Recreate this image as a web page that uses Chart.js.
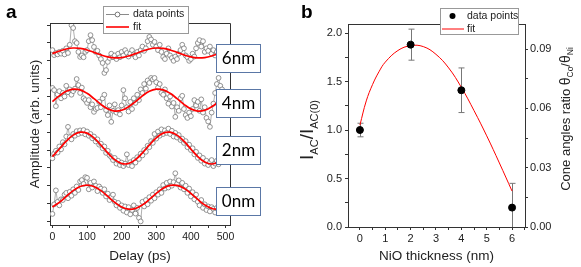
<!DOCTYPE html>
<html><head><meta charset="utf-8">
<script src="https://cdn.jsdelivr.net/npm/chart.js@4"></script>
<style>
html,body{margin:0;padding:0;background:#fff;width:581px;height:267px;overflow:hidden}
canvas{position:absolute;top:0}
#ca{left:0}
#cb{left:270px}
</style></head><body>
<canvas id="ca" width="270" height="267"></canvas>
<canvas id="cb" width="311" height="267"></canvas>
<script>
// ---------- Panel a data ----------
const delay = [0,5,10,15,20,25,30,35,40,45,50,55,60,65,70,75,80,85,90,95,100,105,110,115,120,125,130,135,140,145,150,155,160,165,170,175,180,185,190,195,200,205,210,215,220,225,230,235,240,245,250,255,260,265,270,275,280,285,290,295,300,305,310,315,320,325,330,335,340,345,350,355,360,365,370,375,380,385,390,395,400,405,410,415,420,425,430,435,440,445,450,455,460,465,470,475,480,485,490];
const amp0nm = [-0.29,-0.02,0.37,0.05,-0.05,0.12,0.10,0.25,0.30,0.15,
0.33,0.22,0.40,0.30,0.48,0.38,0.62,0.66,0.55,0.74,
0.72,0.40,0.58,0.45,0.62,0.50,0.35,0.48,0.42,0.30,
0.40,0.20,0.28,0.10,0.18,0.25,0.05,-0.05,0.02,-0.12,
-0.05,-0.20,-0.08,-0.25,-0.10,-0.30,-0.18,-0.05,-0.28,-0.12,
-0.40,-0.50,0.05,-0.08,0.10,-0.02,0.18,0.08,0.25,0.15,
0.32,0.25,0.40,0.30,0.52,0.42,0.58,0.45,0.62,0.50,
0.60,0.85,0.55,0.65,0.45,0.58,0.40,0.50,0.30,0.42,
0.20,0.32,0.12,0.25,0.05,-0.05,0.10,-0.12,-0.02,-0.18,
-0.08,-0.22,-0.10,-0.15,-0.25,-0.12,-0.20,-0.10,-0.15];
const amp2nm = [1.27,1.40,1.48,1.43,1.60,1.52,1.72,1.66,1.88,2.15,
1.86,1.80,1.95,1.90,2.03,1.95,2.05,1.98,2.06,1.94,
2.02,1.90,1.95,1.83,1.88,1.74,1.80,1.65,1.68,1.55,
1.60,1.42,1.48,1.35,1.30,1.22,1.28,1.12,1.20,1.08,
1.15,1.05,1.12,1.38,1.08,1.16,1.05,1.22,1.15,1.30,
1.25,1.40,1.35,1.50,1.45,1.62,1.58,1.75,1.70,1.95,
1.82,2.02,1.90,2.08,1.95,2.05,1.98,2.10,1.95,2.04,
1.88,1.98,1.85,1.92,1.78,1.82,1.70,1.75,1.58,1.65,
1.50,1.55,1.38,1.45,1.28,1.35,1.20,1.28,1.12,1.20,
1.08,1.15,1.22,1.05,1.12,1.20,1.10,1.18,1.25];
const amp4nm = [3.24,3.18,2.73,3.06,3.15,2.95,3.10,3.00,3.30,3.12,
3.20,3.05,3.15,3.22,3.49,3.32,3.10,3.25,2.95,2.90,
2.82,2.90,2.70,2.78,2.57,2.65,2.68,2.85,2.70,2.95,
3.05,2.62,2.48,2.75,2.29,2.60,2.78,2.55,2.62,2.50,
2.75,3.18,2.95,2.70,2.58,2.85,2.65,2.95,2.82,3.05,
2.90,3.20,3.10,3.35,3.22,3.45,3.38,3.52,3.48,3.52,
3.40,3.25,3.35,3.10,3.05,3.20,2.95,2.80,3.00,2.72,
2.82,2.43,2.70,2.60,2.95,3.02,2.65,2.48,2.40,2.55,
2.45,2.65,2.90,2.75,2.85,2.60,2.92,2.55,2.70,2.40,
2.30,2.15,2.55,2.80,3.10,3.35,3.52,3.30,3.20];
const amp6nm = [4.30,4.16,4.22,4.18,4.25,4.20,4.28,4.18,4.35,4.22,
4.45,5.00,4.92,4.55,4.50,4.25,4.11,4.15,4.10,4.25,
4.30,4.55,4.72,4.58,4.39,4.25,4.28,4.15,4.05,3.94,
3.66,3.74,3.97,4.08,4.20,4.10,4.15,4.05,4.20,4.10,
4.25,4.15,4.30,4.22,4.12,4.20,4.30,4.18,4.10,4.25,
4.15,4.30,4.40,4.28,4.35,4.55,4.67,4.60,4.45,4.53,
4.40,4.30,4.45,4.25,4.11,4.05,4.20,4.35,4.15,4.08,
4.00,4.12,4.05,4.20,4.30,4.45,4.35,4.15,4.10,4.00,
4.05,4.20,4.12,4.35,4.50,4.58,4.40,4.55,4.25,4.35,
4.28,4.40,4.20,4.30,4.15,4.25,4.35,4.20,4.30];
const fitDelay = [0,20,40,60,80,100,120,140,160,180,200,220,240,260,280,300,320,340,360,380,400,420,440,460,480];
const fit0nm = [-0.095,0.035,0.201,0.362,0.478,0.52,0.478,0.362,0.201,0.035,-0.095,-0.157,-0.136,-0.037,0.116,0.285,0.428,0.509,0.509,0.428,0.285,0.116,-0.037,-0.136,-0.157];
const fit2nm = [1.317,1.529,1.748,1.919,2.001,1.974,1.842,1.641,1.419,1.230,1.123,1.123,1.230,1.419,1.641,1.842,1.974,2.001,1.919,1.748,1.529,1.317,1.165,1.109,1.165];
const fit4nm = [2.859,3.019,3.146,3.207,3.186,3.089,2.941,2.781,2.654,2.593,2.614,2.711,2.859,3.019,3.146,3.207,3.186,3.089,2.941,2.781,2.654,2.593,2.614,2.711,2.859];
const fit6nm = [4.202,4.274,4.331,4.359,4.349,4.305,4.238,4.166,4.109,4.081,4.091,4.135,4.202,4.274,4.331,4.359,4.349,4.305,4.238,4.166,4.109,4.081,4.091,4.135,4.202];
const traceLabels = ['6nm','4nm','2nm','0nm'];
const delayTicks = [0,50,100,150,200,250,300,350,400,450,500];
const ampTicks = [-0.5,0,0.5,1,1.5,2,2.5,3,3.5,4,4.5,5];

// ---------- Panel b data ----------
const thickness = [0,2,4,6];
const ratio = [1.00,1.88,1.41,0.20];
const ratioErr = [0.07,0.16,0.23,0.25];
const fitThickness = [0,0.25,0.5,0.75,1,1.5,2,2.5,3,3.5,4,4.5,5,5.5,6];
const fitRatio = [1.05,1.30,1.47,1.60,1.70,1.82,1.87,1.86,1.78,1.64,1.44,1.20,0.94,0.66,0.37];
const thicknessTicks = [0,0.5,1,1.5,2,2.5,3,3.5,4,4.5,5,5.5,6,6.5];
const ratioTicks = [0,0.25,0.5,0.75,1,1.25,1.5,1.75,2];
const coneTicks = [0,0.015,0.03,0.045,0.06,0.075,0.09];

const FAM = "'Liberation Sans', Arial, sans-serif";
Chart.defaults.font.family = FAM;
Chart.defaults.color = '#222';
const AX = '#333';

function pts(xs, ys){ return xs.map((x,i)=>({x:x, y:ys[i]})); }

function drawRich(ctx, parts, cx, cy, base){
  ctx.save();
  ctx.translate(cx, cy);
  ctx.rotate(-Math.PI/2);
  let w = 0;
  parts.forEach(p=>{ ctx.font = p.size+'px '+FAM; p.w = ctx.measureText(p.t).width; w += p.w; });
  let x = -w/2;
  ctx.fillStyle = '#222';
  ctx.textBaseline = 'alphabetic';
  ctx.textAlign = 'left';
  parts.forEach(p=>{
    ctx.font = p.size+'px '+FAM;
    const y = base*0.36 + (p.sub ? base*0.28 : 0);
    ctx.fillText(p.t, x, y);
    x += p.w;
  });
  ctx.restore();
}

// ---------- Chart A ----------
const decorA = {
  id:'decorA',
  afterDraw(chart){
    const ctx = chart.ctx, a = chart.chartArea;
    ctx.save();
    ctx.strokeStyle = AX; ctx.lineWidth = 1;
    ctx.beginPath();
    ctx.moveTo(Math.round(a.left)+0.5, Math.round(a.top)+0.5);
    ctx.lineTo(Math.round(a.right)+0.5, Math.round(a.top)+0.5);
    ctx.lineTo(Math.round(a.right)+0.5, Math.round(a.bottom)+0.5);
    ctx.stroke();
    // legend
    ctx.fillStyle = '#fff'; ctx.strokeStyle = '#999';
    ctx.fillRect(103.5,6.5,85,27); ctx.strokeRect(103.5,6.5,85,27);
    ctx.strokeStyle = '#8a8a8a'; ctx.lineWidth = 1;
    ctx.beginPath(); ctx.moveTo(106,14.5); ctx.lineTo(129,14.5); ctx.stroke();
    ctx.beginPath(); ctx.arc(117.5,14.5,2.4,0,Math.PI*2); ctx.fillStyle='#fff'; ctx.fill(); ctx.strokeStyle='#777'; ctx.stroke();
    ctx.strokeStyle = '#ff0000'; ctx.lineWidth = 1.6;
    ctx.beginPath(); ctx.moveTo(106,27); ctx.lineTo(129,27); ctx.stroke();
    ctx.fillStyle = '#222'; ctx.font = '10.5px '+FAM; ctx.textBaseline = 'middle'; ctx.textAlign='left';
    ctx.fillText('data points',133,14.5);
    ctx.fillText('fit',133,27.5);
    // trace labels
    const anchors = [57.5,103,150,200.5];
    traceLabels.forEach((t,i)=>{
      const cy = anchors[i];
      ctx.fillStyle = '#fff'; ctx.strokeStyle = '#5a77a6'; ctx.lineWidth = 1;
      ctx.fillRect(216.5, Math.round(cy-14)+0.5, 44, 28);
      ctx.strokeRect(216.5, Math.round(cy-14)+0.5, 44, 28);
      ctx.fillStyle = '#000'; ctx.font = "17px Lato, 'Open Sans', sans-serif";
      ctx.textAlign = 'center'; ctx.textBaseline = 'middle';
      ctx.fillText(t, 238.5, cy+1);
    });
    // panel label
    ctx.fillStyle = '#000'; ctx.font = 'bold 19px '+FAM; ctx.textAlign='left'; ctx.textBaseline='alphabetic';
    ctx.fillText('a', 6, 18);
    ctx.restore();
  }
};

const dataStyle = {borderColor:'#9a9a9a', borderWidth:0.8, pointRadius:2.4, pointBorderWidth:0.8, pointBorderColor:'#777', pointBackgroundColor:'#fff', tension:0, order:1};
const fitStyle = {borderColor:'#ff0000', borderWidth:1.7, pointRadius:0, tension:0.4, order:0};

new Chart(document.getElementById('ca'), {
  type:'line',
  data:{datasets:[
    Object.assign({data:pts(fitDelay,fit6nm)}, fitStyle),
    Object.assign({data:pts(fitDelay,fit4nm)}, fitStyle),
    Object.assign({data:pts(fitDelay,fit2nm)}, fitStyle),
    Object.assign({data:pts(fitDelay,fit0nm)}, fitStyle),
    Object.assign({data:pts(delay,amp6nm)}, dataStyle),
    Object.assign({data:pts(delay,amp4nm)}, dataStyle),
    Object.assign({data:pts(delay,amp2nm)}, dataStyle),
    Object.assign({data:pts(delay,amp0nm)}, dataStyle)
  ]},
  options:{
    responsive:false, animation:false, events:[],
    layout:{padding:{top:23,right:40,left:0,bottom:0}},
    plugins:{legend:{display:false}, tooltip:{enabled:false}},
    scales:{
      x:{type:'linear', min:-7, max:513,
        afterBuildTicks:s=>{ s.ticks = delayTicks.map(v=>({value:v})); },
        afterFit:s=>{ s.height = 42; },
        ticks:{autoSkip:false, maxRotation:0, padding:3, font:{size:10.5}, color:'#222', callback:(v)=> (v%100===0 ? String(v) : '')},
        grid:{drawOnChartArea:false, tickLength:3, tickColor:AX},
        border:{color:AX, width:1},
        title:{display:true, text:'Delay (ps)', font:{size:13.5}, color:'#222', padding:{top:0,bottom:3}}
      },
      y:{type:'linear', min:-0.6, max:5.06,
        afterBuildTicks:s=>{ s.ticks = ampTicks.map(v=>({value:v})); },
        afterFit:s=>{ s.width = 50; },
        ticks:{callback:()=>''},
        grid:{drawOnChartArea:false, tickLength:3, tickColor:AX},
        border:{color:AX, width:1},
        title:{display:true, text:'Amplitude (arb. units)', font:{size:13.5}, color:'#222', padding:{top:27,bottom:0}}
      }
    }
  },
  plugins:[decorA]
});

// ---------- Chart B ----------
const decorB = {
  id:'decorB',
  beforeDatasetsDraw(chart){
    const ctx = chart.ctx, xs = chart.scales.x, ys = chart.scales.y, a = chart.chartArea;
    ctx.save();
    ctx.strokeStyle = '#777'; ctx.lineWidth = 1;
    thickness.forEach((t,i)=>{
      const x = Math.round(xs.getPixelForValue(t))+0.5;
      const yt = ys.getPixelForValue(ratio[i]+ratioErr[i]);
      const yb = Math.min(a.bottom, ys.getPixelForValue(ratio[i]-ratioErr[i]));
      ctx.beginPath();
      ctx.moveTo(x,yt); ctx.lineTo(x,yb);
      ctx.moveTo(x-3,yt); ctx.lineTo(x+3,yt);
      if (ratio[i]-ratioErr[i] > 0){ ctx.moveTo(x-3,yb); ctx.lineTo(x+3,yb); }
      ctx.stroke();
    });
    ctx.restore();
  },
  afterDraw(chart){
    const ctx = chart.ctx, a = chart.chartArea;
    ctx.save();
    ctx.strokeStyle = AX; ctx.lineWidth = 1;
    ctx.beginPath();
    ctx.moveTo(Math.round(a.left)+0.5, Math.round(a.top)+0.5);
    ctx.lineTo(Math.round(a.right)+0.5, Math.round(a.top)+0.5);
    ctx.stroke();
    // legend
    ctx.fillStyle = '#fff'; ctx.strokeStyle = '#999';
    ctx.fillRect(170.5,8.5,78,26); ctx.strokeRect(170.5,8.5,78,26);
    ctx.fillStyle = '#000';
    ctx.beginPath(); ctx.arc(182.5,16,3,0,Math.PI*2); ctx.fill();
    ctx.strokeStyle = '#ff0000'; ctx.lineWidth = 1;
    ctx.beginPath(); ctx.moveTo(172,29); ctx.lineTo(194,29); ctx.stroke();
    ctx.fillStyle = '#222'; ctx.font = '10.5px '+FAM; ctx.textBaseline='middle'; ctx.textAlign='left';
    ctx.fillText('data points',197,16);
    ctx.fillText('fit',197,29);
    // panel label
    ctx.fillStyle = '#000'; ctx.font = 'bold 19px '+FAM; ctx.textBaseline='alphabetic';
    ctx.fillText('b', 31, 18);
    // axis titles
    drawRich(ctx, [
      {t:'I', size:19},{t:'AC', size:11, sub:true},{t:'/', size:19},{t:'I', size:19},{t:'AC(0)', size:11, sub:true}
    ], 36, 130, 19);
    drawRich(ctx, [
      {t:'Cone angles ratio ', size:13},{t:'θ', size:14},{t:'Co', size:8.5, sub:true},{t:'/', size:13},{t:'θ', size:14},{t:'Ni', size:8.5, sub:true}
    ], 295, 119, 13);
    ctx.restore();
  }
};

new Chart(document.getElementById('cb'), {
  type:'line',
  data:{datasets:[
    {data:pts(thickness,ratio), showLine:false, pointRadius:3.5, pointBackgroundColor:'#000', pointBorderColor:'#000', order:0, yAxisID:'y'},
    {data:pts(fitThickness,fitRatio), borderColor:'#ff0000', borderWidth:1, pointRadius:0, tension:0.4, order:1, yAxisID:'y'}
  ]},
  options:{
    responsive:false, animation:false, events:[],
    layout:{padding:{top:24,right:0,left:0,bottom:0}},
    plugins:{legend:{display:false}, tooltip:{enabled:false}},
    scales:{
      x:{type:'linear', min:-0.47, max:6.51,
        afterBuildTicks:s=>{ s.ticks = thicknessTicks.map(v=>({value:v})); },
        afterFit:s=>{ s.height = 40; },
        ticks:{autoSkip:false, maxRotation:0, padding:2, font:{size:11}, color:'#222', callback:(v)=> (Number.isInteger(v) ? String(v) : '')},
        grid:{drawOnChartArea:false, tickLength:3, tickColor:AX},
        border:{color:AX, width:1},
        title:{display:true, text:'NiO thickness (nm)', font:{size:13.5}, color:'#222', padding:{top:0,bottom:3}}
      },
      y:{type:'linear', position:'left', min:0, max:2.093,
        afterBuildTicks:s=>{ s.ticks = ratioTicks.map(v=>({value:v})); },
        afterFit:s=>{ s.width = 78; },
        ticks:{padding:3, font:{size:11}, color:'#222', callback:(v,i)=> (i%2===0 ? v.toFixed(1) : '')},
        grid:{drawOnChartArea:false, tickLength:3, tickColor:AX},
        border:{color:AX, width:1}
      },
      y2:{type:'linear', position:'right', min:0, max:0.1027,
        afterBuildTicks:s=>{ s.ticks = coneTicks.map(v=>({value:v})); },
        afterFit:s=>{ s.width = 56; },
        ticks:{padding:2, font:{size:11}, color:'#222', callback:(v,i)=> (i%2===0 ? v.toFixed(2) : '')},
        grid:{drawOnChartArea:false, tickLength:3, tickColor:AX},
        border:{color:AX, width:1}
      }
    }
  },
  plugins:[decorB]
});
</script>
</body></html>
